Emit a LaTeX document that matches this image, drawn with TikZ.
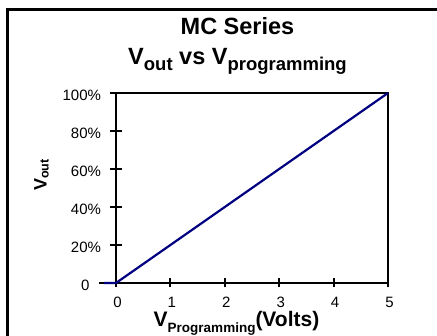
\documentclass[tikz,border=0pt]{standalone}
\usepackage{fontspec}
\setmainfont{Liberation Sans}
\definecolor{navyline}{RGB}{0,0,128}
\newcommand{\subtxt}[3]{\raisebox{-#1}{\fontsize{#2}{#2}\selectfont #3}}
\begin{document}
\begin{tikzpicture}[x=1pt,y=1pt,
  frameline/.style={line width=3pt,line cap=rect},
  axisline/.style={line width=2pt},
  borderline/.style={line width=1.1pt},
  tickline/.style={line width=2pt},
  ylab/.style={anchor=base east,font=\fontsize{15}{15}\selectfont},
  xlab/.style={anchor=base,font=\fontsize{15}{15}\selectfont},
  dataline/.style={draw=navyline,line width=2.2pt,line join=round}]
\useasboundingbox (0,0) rectangle (437,336);
% frame
\coordinate (fbl) at (7.5,-5);
\coordinate (ftl) at (7.5,326.5);
\coordinate (ftr) at (445,326.5);
\draw[frameline] (fbl) -- (ftl) -- (ftr);
% plot corners
\coordinate (o) at (116,53);
\coordinate (xl) at (99,53);
\coordinate (xr) at (388,53);
\coordinate (yt) at (116,243);
\coordinate (tr) at (388,243);
% border
\draw[borderline] (yt) -- (tr) -- (xr);
% axes
\draw[axisline] (o) -- (yt);
\draw[axisline] (xl) -- (xr);
% y ticks
\foreach \k in {1,...,5}{
  \coordinate (ya\k) at (110,53+38*\k);
  \coordinate (yb\k) at (122,53+38*\k);
  \draw[tickline] (ya\k) -- (yb\k);
}
% x ticks
\coordinate (xt0) at (116,48.5);
\draw[tickline] (o) -- (xt0);
\foreach \k in {1,...,5}{
  \coordinate (xa\k) at (116+54.4*\k,48.5);
  \coordinate (xb\k) at (116+54.4*\k,57.5);
  \draw[tickline] (xa\k) -- (xb\k);
}
% data
\coordinate (d0) at (104,53);
\draw[dataline] (d0) -- (o) -- (tr);
% y tick labels
\node[ylab] (l0) at (93,45.5) {0};
\node[ylab] (l20) at (104.5,83.5) {20\%};
\node[ylab] (l40) at (104.5,121.5) {40\%};
\node[ylab] (l60) at (104.5,159.5) {60\%};
\node[ylab] (l80) at (104.5,197.5) {80\%};
\node[ylab] (l100) at (104.5,235.5) {100\%};
% x tick labels
\foreach \k in {0,...,5}{
  \node[xlab] (x\k) at (117.5+54.4*\k,28.5) {\k};
}
% titles
\node[anchor=base,font=\fontsize{23.5}{23.5}\selectfont\bfseries] (t1) at (237.5,301) {MC Series};
\node[anchor=base,font=\fontsize{23.5}{23.5}\selectfont\bfseries] (t2) at (237.5,271)
  {V\subtxt{6pt}{18.5}{out} vs V\subtxt{6pt}{18.5}{programming}};
% axis titles
\node[anchor=base,font=\fontsize{21}{21}\selectfont\bfseries] (xt) at (236.5,9.3)
  {V\subtxt{6pt}{13.5}{Programming}(Volts)};
\node[anchor=base,rotate=90,font=\fontsize{18}{18}\selectfont\bfseries] (yl) at (46.7,161)
  {V\subtxt{2pt}{12.5}{out}};
\end{tikzpicture}
\end{document}
